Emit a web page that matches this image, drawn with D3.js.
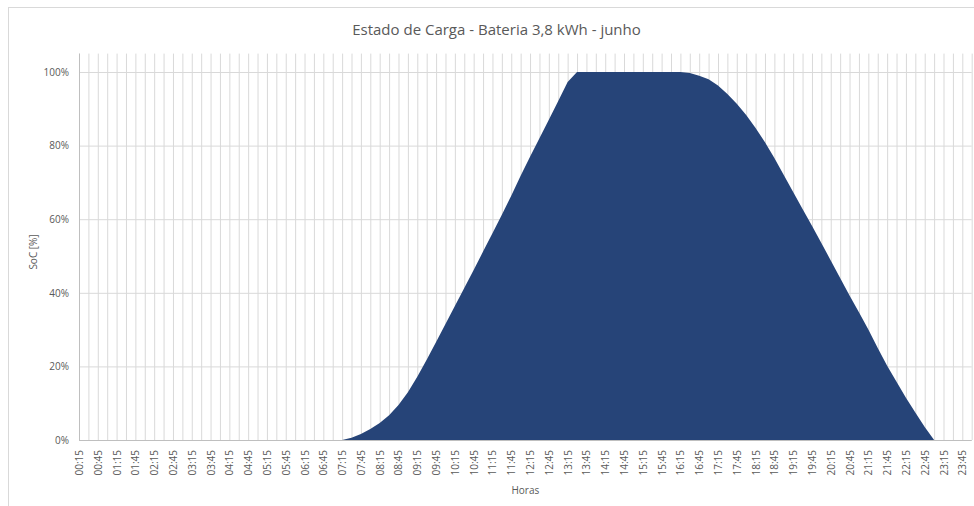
<!DOCTYPE html>
<html>
<head>
<meta charset="utf-8">
<script src="https://cdn.jsdelivr.net/npm/d3@7"></script>
<style>
  body { margin: 0; background: #fff; }
  text { font-family: "Open Sans", sans-serif; fill: #595959; }
  .grid line { stroke: #d9d9d9; }
  .grid path { stroke: none; }
  .axis path, .axis line { stroke: none; }
</style>
</head>
<body>
<script>
// time categories, every 15 minutes
let horas = [
  "00:15","00:30","00:45","01:00","01:15","01:30","01:45","02:00","02:15","02:30","02:45","03:00",
  "03:15","03:30","03:45","04:00","04:15","04:30","04:45","05:00","05:15","05:30","05:45","06:00",
  "06:15","06:30","06:45","07:00","07:15","07:30","07:45","08:00","08:15","08:30","08:45","09:00",
  "09:15","09:30","09:45","10:00","10:15","10:30","10:45","11:00","11:15","11:30","11:45","12:00",
  "12:15","12:30","12:45","13:00","13:15","13:30","13:45","14:00","14:15","14:30","14:45","15:00",
  "15:15","15:30","15:45","16:00","16:15","16:30","16:45","17:00","17:15","17:30","17:45","18:00",
  "18:15","18:30","18:45","19:00","19:15","19:30","19:45","20:00","20:15","20:30","20:45","21:00",
  "21:15","21:30","21:45","22:00","22:15","22:30","22:45","23:00","23:15","23:30","23:45","00:00"
];

// state of charge [%] for each category
let soc = [
  0,0,0,0,0,0,0,0,0,0,0,0,0,0,0,0,0,0,0,0,0,0,0,0,
  0,0,0,0,0,0.6,1.6,3.0,4.6,6.7,9.5,13.0,
  17.2,21.8,26.6,31.5,36.4,41.3,46.2,51.2,56.2,61.2,66.4,71.8,
  77.0,82.0,87.0,92.1,97.3,100,100,100,100,100,100,100,
  100,100,100,100,100,99.7,99.0,98.0,96.3,94.0,91.4,88.3,
  84.8,80.9,76.6,72.0,67.4,62.8,58.2,53.5,48.8,44.0,39.3,34.7,
  30.0,25.0,20.2,15.8,11.5,7.5,3.5,0,0,0,0,0
];

// y axis ticks
let yTicks = [0, 20, 40, 60, 80, 100];

let titulo = "Estado de Carga - Bateria 3,8 kWh - junho";

let margin = {top: 53.6, right: 2.3, bottom: 66, left: 79};
let width = 974 - margin.left - margin.right;
let height = 506 - margin.top - margin.bottom;

let x = d3.scalePoint().domain(horas).range([0, width]);
let y = d3.scaleLinear().domain([0, 105]).range([height, 0]);

let root = d3.select("body").append("svg")
    .attr("width", 974)
    .attr("height", 506);

// chart area border
root.append("rect")
    .attr("x", 8.5).attr("y", 7.5)
    .attr("width", 980).attr("height", 520)
    .attr("fill", "#fff")
    .attr("stroke", "#d9d9d9");

let svg = root.append("g")
    .attr("transform", "translate(" + margin.left + "," + margin.top + ")");

// vertical gridlines, one per category
svg.append("g")
    .attr("class", "grid")
    .attr("transform", "translate(0," + height + ")")
    .call(d3.axisBottom(x).tickSize(-height).tickFormat(""));

// horizontal gridlines
svg.append("g")
    .attr("class", "grid")
    .call(d3.axisLeft(y).tickValues(yTicks).tickSize(-width).tickFormat(""));

// the area
let area = d3.area()
    .x(function(d, i) { return x(horas[i]); })
    .y0(y(0))
    .y1(function(d) { return y(d); });

svg.append("path")
    .datum(soc)
    .attr("fill", "#264478")
    .attr("d", area);

// axis lines
svg.append("line")
    .attr("x1", 0).attr("x2", width)
    .attr("y1", height + 0.5).attr("y2", height + 0.5)
    .attr("stroke", "#bfbfbf");
svg.append("line")
    .attr("x1", 0.5).attr("x2", 0.5)
    .attr("y1", 0).attr("y2", height)
    .attr("stroke", "#bfbfbf");

// x tick labels, every other category
let xAxis = svg.append("g")
    .attr("class", "axis")
    .attr("transform", "translate(0," + height + ")")
    .call(d3.axisBottom(x)
        .tickValues(horas.filter(function(d, i) { return i % 2 === 0; }))
        .tickSize(0));
xAxis.selectAll("text")
    .attr("font-size", 10)
    .attr("transform", "rotate(-90)")
    .attr("x", -10)
    .attr("y", 0)
    .attr("dy", "0.35em")
    .style("text-anchor", "end");

// y tick labels
let yAxis = svg.append("g")
    .attr("class", "axis")
    .call(d3.axisLeft(y)
        .tickValues(yTicks)
        .tickSize(0)
        .tickFormat(function(d) { return d + "%"; }));
yAxis.selectAll("text")
    .attr("font-size", 10)
    .attr("x", -10);

// title
root.append("text")
    .attr("x", 496.5)
    .attr("y", 35)
    .attr("text-anchor", "middle")
    .attr("font-size", 15)
    .text(titulo);

// axis titles
root.append("text")
    .attr("x", margin.left + width / 2)
    .attr("y", 494)
    .attr("text-anchor", "middle")
    .attr("font-size", 10)
    .text("Horas");

root.append("text")
    .attr("transform", "translate(37,252) rotate(-90)")
    .attr("text-anchor", "middle")
    .attr("font-size", 10)
    .text("SoC [%]");
</script>
</body>
</html>
